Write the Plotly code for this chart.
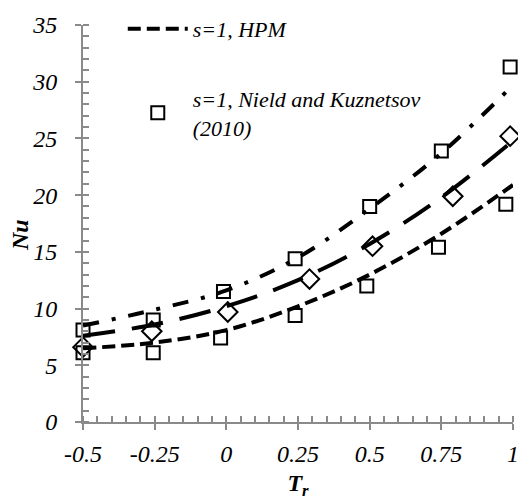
import plotly.graph_objects as go

# HPM curves (s=1 shown, three cases)
curve_x = [-0.5, -0.25, 0.0, 0.25, 0.5, 0.75, 1.0]
curve_top = [8.5, 9.9, 11.6, 14.5, 18.8, 23.7, 29.7]
curve_mid = [7.6, 8.6, 10.2, 12.5, 15.7, 19.8, 24.8]
curve_bot = [6.5, 7.0, 8.1, 10.2, 13.0, 16.6, 20.9]

# Nield and Kuznetsov (2010) markers
sq_top_x = [-0.5, -0.255, -0.01, 0.24, 0.50, 0.75, 0.99]
sq_top_y = [8.1, 9.0, 11.5, 14.4, 19.0, 23.9, 31.3]
dia_x = [-0.5, -0.26, 0.005, 0.29, 0.51, 0.79, 0.99]
dia_y = [6.6, 8.0, 9.7, 12.6, 15.5, 19.9, 25.2]
sq_bot_x = [-0.5, -0.255, -0.02, 0.24, 0.49, 0.74, 0.975]
sq_bot_y = [6.1, 6.1, 7.4, 9.4, 12.0, 15.4, 19.2]

x_ticks = [-0.5, -0.25, 0, 0.25, 0.5, 0.75, 1]
x_labels = ["-0.5", "-0.25", "0", "0.25", "0.5", "0.75", "1"]
y_ticks = [0, 5, 10, 15, 20, 25, 30, 35]

FONT = "Liberation Serif, Times New Roman, serif"
GRAY = "#8a8a8a"

fig = go.Figure()
fig.add_trace(go.Scatter(x=curve_x, y=curve_top, mode="lines", line_shape="spline",
                         line=dict(color="black", width=4, dash="16px,13px,4px,13px"),
                         showlegend=False))
fig.add_trace(go.Scatter(x=curve_x, y=curve_mid, mode="lines", line_shape="spline",
                         line=dict(color="black", width=4, dash="32px,17px"),
                         showlegend=False))
fig.add_trace(go.Scatter(x=curve_x, y=curve_bot, mode="lines", line_shape="spline",
                         line=dict(color="black", width=4, dash="13px,6px"),
                         name="<i>s=1, HPM</i>", legendgroup="a"))
fig.add_trace(go.Scatter(x=sq_top_x, y=sq_top_y, mode="markers", cliponaxis=False,
                         marker=dict(symbol="square-open", size=13, color="black",
                                     line=dict(width=2, color="black")),
                         showlegend=False))
fig.add_trace(go.Scatter(x=dia_x, y=dia_y, mode="markers", cliponaxis=False,
                         marker=dict(symbol="diamond-open", size=15, color="black",
                                     line=dict(width=2, color="black")),
                         showlegend=False))
fig.add_trace(go.Scatter(x=sq_bot_x, y=sq_bot_y, mode="markers", cliponaxis=False,
                         marker=dict(symbol="square-open", size=13, color="black",
                                     line=dict(width=2, color="black")),
                         name="<i>s=1, Nield and Kuznetsov<br>(2010)</i>", legendgroup="b"))

axis_common = dict(showgrid=False, zeroline=False, showline=True, linecolor=GRAY, linewidth=2,
                   tickcolor=GRAY, tickwidth=2, ticklen=6, ticks="outside",
                   ticklabeloverflow="allow",
                   tickfont=dict(family=FONT, size=24, color="black"))

fig.update_layout(
    width=518, height=500,
    margin=dict(l=83, r=5, t=25, b=78, autoexpand=False),
    plot_bgcolor="white", paper_bgcolor="white",
    font=dict(family=FONT, color="black"),
    xaxis=dict(range=[-0.5, 1], tickvals=x_ticks, ticktext=["<i>%s</i>" % t for t in x_labels],
               minor=dict(dtick=0.05, tick0=-0.5, ticks="inside", ticklen=6, tickwidth=1.5, tickcolor=GRAY),
               ticklabelstandoff=3,
               title=dict(text="<b><i>T<sub>r</sub></i></b>", font=dict(family=FONT, size=24), standoff=13),
               **axis_common),
    yaxis=dict(range=[0, 35], tickvals=y_ticks, ticktext=["<i>%d</i>" % t for t in y_ticks],
               minor=dict(dtick=1, tick0=0, ticks="inside", ticklen=6, tickwidth=1.5, tickcolor=GRAY),
               ticklabelstandoff=13,
               **axis_common),
    xaxis2=dict(overlaying="x", matches="x", range=[-0.5, 1], tickvals=x_ticks, ticks="inside",
                ticklen=6, tickwidth=2, tickcolor=GRAY, showticklabels=False, showgrid=False,
                zeroline=False, showline=False),
    yaxis2=dict(overlaying="y", matches="y", range=[0, 35], tickvals=y_ticks, ticks="inside",
                ticklen=6, tickwidth=2, tickcolor=GRAY, showticklabels=False, showgrid=False,
                zeroline=False, showline=False),
    legend=dict(xref="container", yref="container", x=0.237, y=0.984,
                xanchor="left", yanchor="top", bgcolor="rgba(0,0,0,0)",
                font=dict(family=FONT, size=22, color="black"), tracegroupgap=38,
                itemwidth=60),
    annotations=[dict(text="<b><i>Nu</i></b>", xref="paper", yref="paper",
                      x=-0.1465, y=0.471, xanchor="center", yanchor="middle",
                      textangle=-90, showarrow=False,
                      font=dict(family=FONT, size=24, color="black"))],
)
# dummy trace to activate overlay axes
fig.add_trace(go.Scatter(x=[None], y=[None], xaxis="x2", yaxis="y2", showlegend=False))

fig.write_html("out.html", config={"displayModeBar": False},
               post_script="document.body.style.margin='0';")
